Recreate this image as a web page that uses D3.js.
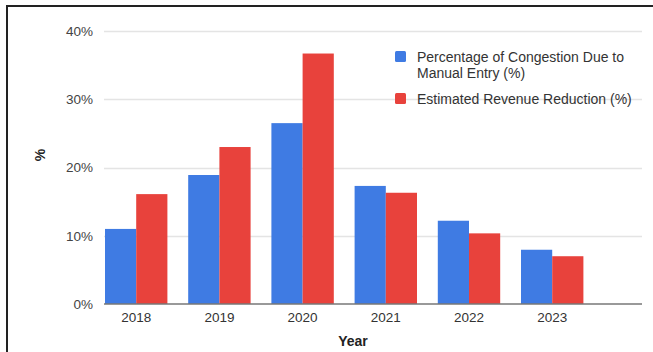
<!DOCTYPE html>
<html>
<head>
<meta charset="utf-8">
<script src="https://cdn.jsdelivr.net/npm/d3@7"></script>
<style>
  body { margin: 0; background: #fff; }
  svg text { font-family: Arial, "Liberation Sans", sans-serif; }
</style>
</head>
<body>
<svg id="chart" width="653" height="352"></svg>
<script>
var years = ['2018', '2019', '2020', '2021', '2022', '2023'];
var congestion = [11.0, 18.9, 26.5, 17.3, 12.2, 7.95];
var revenue = [16.1, 23.0, 36.7, 16.3, 10.35, 7.0];
var seriesNames = ['Percentage of Congestion Due to Manual Entry (%)', 'Estimated Revenue Reduction (%)'];
var seriesColors = ['#3f7be3', '#e8423c'];
var yTicks = [0, 10, 20, 30, 40];

var svg = d3.select('#chart');

// frame round the screenshot (left + top only)
svg.append('line').attr('x1', 7).attr('x2', 7).attr('y1', 5).attr('y2', 352)
    .attr('stroke', '#222').attr('stroke-width', 2);
svg.append('line').attr('x1', 6).attr('x2', 653).attr('y1', 6).attr('y2', 6)
    .attr('stroke', '#222').attr('stroke-width', 2);

var plotLeft = 105, plotRight = 642;

var y = d3.scaleLinear().domain([0, 40]).range([304, 31]);

var step = 83.2;
var x = d3.scaleBand().domain(years)
    .range([plotLeft - 0.125 * step, plotLeft - 0.125 * step + 6 * step])
    .paddingInner(0.25).paddingOuter(0.125);

var xs = d3.scaleBand().domain([0, 1]).range([0, x.bandwidth()]);

// gridlines
svg.append('g').selectAll('line').data(yTicks.slice(1)).join('line')
    .attr('x1', plotLeft - 1).attr('x2', plotRight)
    .attr('y1', d => Math.round(y(d)) + 0.5).attr('y2', d => Math.round(y(d)) + 0.5)
    .attr('stroke', '#e4e4e4').attr('stroke-width', 1.5);

// y axis labels
var yAxis = d3.axisLeft(y).tickValues(yTicks).tickSize(0).tickPadding(0)
    .tickFormat(d => d + '%');
svg.append('g').attr('transform', 'translate(93,0)').call(yAxis)
    .call(g => g.select('.domain').remove())
    .selectAll('text').attr('font-size', 13.5).attr('fill', '#444');

// bars
var data = years.map((yr, i) => ({year: yr, vals: [congestion[i], revenue[i]]}));
var groups = svg.append('g').selectAll('g').data(data).join('g')
    .attr('transform', d => 'translate(' + x(d.year) + ',0)');
groups.selectAll('rect').data(d => d.vals.map((v, k) => ({k: k, v: v}))).join('rect')
    .attr('x', d => xs(d.k))
    .attr('width', xs.bandwidth())
    .attr('y', d => y(d.v))
    .attr('height', d => y(0) - y(d.v))
    .attr('fill', d => seriesColors[d.k]);

// baseline
svg.append('line').attr('x1', plotLeft - 1).attr('x2', plotRight)
    .attr('y1', y(0)).attr('y2', y(0))
    .attr('stroke', '#777').attr('stroke-width', 1.5);

// x axis labels
var xAxis = d3.axisBottom(x).tickSize(0).tickPadding(8);
svg.append('g').attr('transform', 'translate(0,' + y(0) + ')').call(xAxis)
    .call(g => g.select('.domain').remove())
    .selectAll('text').attr('font-size', 13.5).attr('fill', '#333');

// axis titles
svg.append('text').attr('x', 353).attr('y', 346).attr('text-anchor', 'middle')
    .attr('font-size', 14).attr('font-weight', 'bold').attr('fill', '#222').text('Year');
svg.append('text').attr('transform', 'translate(45,155) rotate(-90)')
    .attr('text-anchor', 'middle').attr('font-size', 14).attr('font-weight', 'bold')
    .attr('fill', '#222').text('%');

// legend
var legend = svg.append('g').attr('transform', 'translate(395,0)');
legend.append('rect').attr('x', 0).attr('y', 51).attr('width', 11).attr('height', 11)
    .attr('rx', 1.5).attr('fill', seriesColors[0]);
legend.append('text').attr('x', 22).attr('y', 62).attr('font-size', 14).attr('fill', '#333')
    .text('Percentage of Congestion Due to');
legend.append('text').attr('x', 22).attr('y', 78).attr('font-size', 14).attr('fill', '#333')
    .text('Manual Entry (%)');
legend.append('rect').attr('x', 0).attr('y', 93).attr('width', 11).attr('height', 11)
    .attr('rx', 1.5).attr('fill', seriesColors[1]);
legend.append('text').attr('x', 22).attr('y', 104).attr('font-size', 14).attr('fill', '#333')
    .text('Estimated Revenue Reduction (%)');
</script>
</body>
</html>
